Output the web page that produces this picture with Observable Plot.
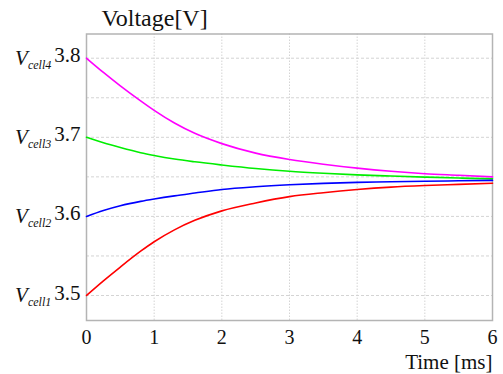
<!DOCTYPE html>
<html>
<head>
<meta charset="utf-8">
<script src="https://cdn.jsdelivr.net/npm/d3@7"></script>
<script src="https://cdn.jsdelivr.net/npm/@observablehq/plot@0.6"></script>
<style>
  html, body { margin: 0; padding: 0; background: #fff; }
  svg { display: block; }
</style>
</head>
<body>
<div id="chart"></div>
<script>
// Data
const times  = [0, 0.25, 0.5, 0.8, 1, 1.3, 1.6, 2, 2.5, 3, 3.5, 4, 4.5, 5, 5.5, 6];
const vCell4 = [3.800, 3.782, 3.765, 3.746, 3.734, 3.718, 3.705, 3.692, 3.680, 3.672, 3.666, 3.661, 3.657, 3.654, 3.652, 3.650];
const vCell3 = [3.700, 3.693, 3.687, 3.6805, 3.677, 3.6725, 3.669, 3.665, 3.6605, 3.657, 3.6545, 3.6525, 3.651, 3.6497, 3.6485, 3.6475];
const vCell2 = [3.600, 3.6075, 3.6135, 3.619, 3.622, 3.626, 3.6295, 3.634, 3.6375, 3.640, 3.6418, 3.643, 3.6438, 3.6445, 3.645, 3.6455];
const vCell1 = [3.500, 3.5185, 3.536, 3.556, 3.568, 3.583, 3.595, 3.607, 3.617, 3.625, 3.630, 3.634, 3.637, 3.639, 3.6405, 3.642];

const seriesNames  = ["cell4", "cell3", "cell2", "cell1"];
const seriesValues = [vCell4, vCell3, vCell2, vCell1];
const seriesColors = ["#ff00ff", "#00ee00", "#0000ff", "#ff0000"];

const yTicks = [3.5, 3.6, 3.7, 3.8];
const yTickNames = ["cell1", "cell2", "cell3", "cell4"];
const yGrid = [3.5, 3.55, 3.6, 3.65, 3.7, 3.75, 3.8];
const xTicks = [0, 1, 2, 3, 4, 5, 6];
const xGrid = [1, 2, 3, 4, 5];
const xTitle = "Time [ms]";
const yTitle = "Voltage[V]";

const rows = [];
seriesNames.forEach((name, i) => {
  times.forEach((t, j) => rows.push({series: name, t, v: seriesValues[i][j]}));
});

const font = "'Liberation Serif', 'DejaVu Serif', serif";

const plot = Plot.plot({
  width: 503,
  height: 374,
  marginLeft: 86,
  marginRight: 11,
  marginTop: 33.5,
  marginBottom: 54,
  style: {fontFamily: font, background: "#fff", overflow: "visible"},
  x: {domain: [0, 6], label: null},
  y: {domain: [3.4684, 3.8306], label: null},
  color: {domain: seriesNames, range: seriesColors},
  marks: [
    Plot.ruleY(yGrid, {stroke: "#d4d4d4", strokeWidth: 1, strokeDasharray: "3,2"}),
    Plot.ruleX(xGrid, {stroke: "#d4d4d4", strokeWidth: 1, strokeDasharray: "1.5,1.5"}),
    Plot.frame({stroke: "#b4b4b4", strokeWidth: 1.5}),
    Plot.line(rows, {x: "t", y: "v", z: "series", stroke: "series", strokeWidth: 1.6, curve: "monotone-x"}),
    Plot.axisX(xTicks, {tickSize: 0, tickPadding: 9, fontSize: 20, fill: "#111", tickFormat: d => String(d), label: null}),
    Plot.axisY(yTicks, {tickSize: 0, tickPadding: 6, fontSize: 21, fill: "#111", tickFormat: d => d.toFixed(1), label: null}),
    Plot.text([yTitle], {frameAnchor: "top-left", dx: 15, dy: -8, lineAnchor: "bottom", textAnchor: "start", fontSize: 24, fill: "#111"}),
    Plot.text([xTitle], {frameAnchor: "bottom-right", dx: 0, dy: 48, lineAnchor: "bottom", textAnchor: "end", fontSize: 21, fill: "#111"})
  ]
});

// Add V_cell prefixes with italic subscript to the y tick labels
d3.select(plot).selectAll('g[aria-label="y-axis tick label"] text').each(function() {
  const el = d3.select(this);
  const val = el.text();
  const idx = yTicks.findIndex(v => v.toFixed(1) === val);
  el.text(null);
  el.append("tspan").attr("font-style", "italic").attr("font-size", 21).text("V");
  el.append("tspan").attr("font-style", "italic").attr("font-size", 12).attr("dy", "0.3em").text(yTickNames[idx]);
  el.append("tspan").attr("dy", "-0.3em").attr("dx", 3).text(val);
});

document.getElementById("chart").appendChild(plot);
</script>
</body>
</html>
